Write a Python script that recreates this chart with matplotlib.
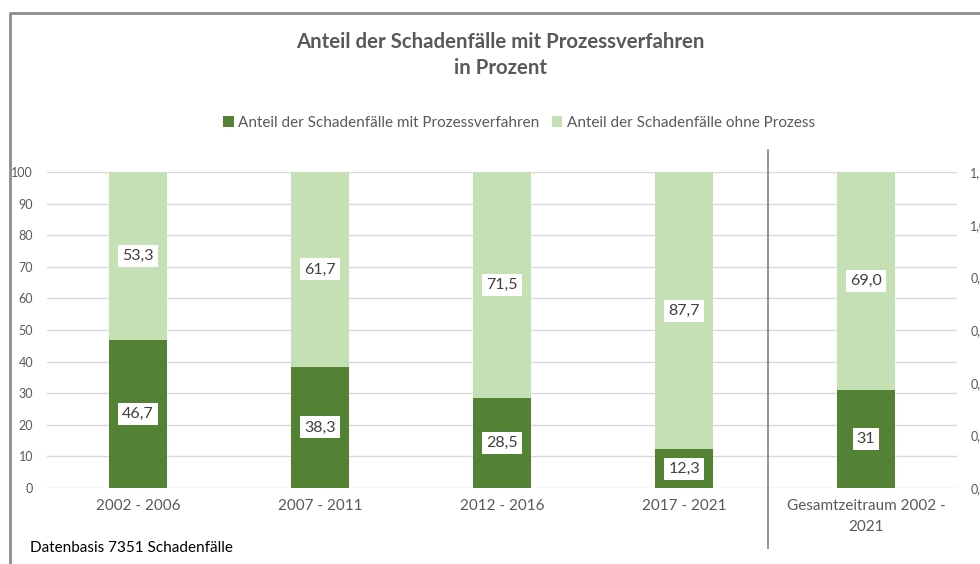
import matplotlib.pyplot as plt
import numpy as np

plt.rcParams['font.family'] = ['Lato', 'DejaVu Sans']

# --- data ---
categories = ["2002 - 2006", "2007 - 2011", "2012 - 2016", "2017 - 2021",
              "Gesamtzeitraum 2002 -\n2021"]
mit_prozess = [46.7, 38.3, 28.5, 12.3, 31.0]
ohne_prozess = [53.3, 61.7, 71.5, 87.7, 69.0]
mit_labels = ["46,7", "38,3", "28,5", "12,3", "31"]
ohne_labels = ["53,3", "61,7", "71,5", "87,7", "69,0"]
right_ticks = [0.0, 0.2, 0.4, 0.6, 0.8, 1.0, 1.2]

DARK = "#548235"
LIGHT = "#C5E0B4"
GREY = "#595959"
GRID = "#D9D9D9"

W, H = 980, 564
fig = plt.figure(figsize=(9.8, 5.64), dpi=100)
ax = fig.add_axes([47 / W, 1 - 488 / H, (957 - 47) / W, (488 - 172) / H])

x = np.arange(len(categories))
ax.bar(x, mit_prozess, width=0.32, color=DARK, zorder=2,
       label="Anteil der Schadenfälle mit Prozessverfahren")
ax.bar(x, ohne_prozess, width=0.32, bottom=mit_prozess, color=LIGHT, zorder=2,
       label="Anteil der Schadenfälle ohne Prozess")

box = dict(boxstyle="square,pad=0.25", fc="white", ec="none")
for i in range(len(x)):
    ax.text(x[i], mit_prozess[i] / 2, mit_labels[i], ha="center", va="center",
            fontsize=11.5, color="#404040", bbox=box, zorder=4)
    ax.text(x[i], mit_prozess[i] + ohne_prozess[i] / 2, ohne_labels[i],
            ha="center", va="center", fontsize=11.5, color="#404040", bbox=box, zorder=4)

ax.set_xlim(-0.5, 4.5)
ax.set_ylim(0, 100)
ax.set_yticks(range(0, 101, 10))
ax.set_xticks(x)
ax.set_xticklabels(categories, fontsize=11, color=GREY, linespacing=1.6)
ax.tick_params(axis="y", length=0, pad=10, labelsize=9, labelcolor=GREY)
ax.tick_params(axis="x", length=0, pad=8)
ax.yaxis.grid(True, color=GRID, linewidth=1, zorder=0)
for s in ax.spines.values():
    s.set_visible(False)

# secondary axis (labels run off the image edge, as in the original)
ax2 = ax.twinx()
ax2.set_ylim(0, 1.2)
ax2.set_yticks(right_ticks)
ax2.set_yticklabels([f"{v:.1f}".replace(".", ",") for v in right_ticks])
ax2.tick_params(axis="y", length=0, pad=9.5, labelsize=9, labelcolor=GREY)
for s in ax2.spines.values():
    s.set_visible(False)

# title and legend
fig.text(500 / W, 1 - 42 / H, "Anteil der Schadenfälle mit Prozessverfahren",
         ha="center", va="center", fontsize=14.7, fontweight="bold", color=GREY)
fig.text(500 / W, 1 - 68 / H, "in Prozent",
         ha="center", va="center", fontsize=14.7, fontweight="bold", color=GREY)
fig.legend(loc="center", bbox_to_anchor=(519 / W, 1 - 123 / H), ncol=2, frameon=False,
           fontsize=11, handlelength=0.7, handleheight=0.7, handletextpad=0.3,
           columnspacing=0.8, labelcolor=GREY)

# separator, border, note
fig.add_artist(plt.Line2D([768 / W, 768 / W], [1 - 150 / H, 1 - 548 / H],
                          color="#808080", linewidth=1.2))
fig.add_artist(plt.Line2D([10 / W, 10 / W, 1], [0, 1 - 12.5 / H, 1 - 12.5 / H],
                          color="#8C8C8C", linewidth=2))
fig.text(30 / W, 1 - 548 / H, "Datenbasis 7351 Schadenfälle", ha="left", va="center",
         fontsize=11, color="black")

fig.savefig("out.png", dpi=100)
